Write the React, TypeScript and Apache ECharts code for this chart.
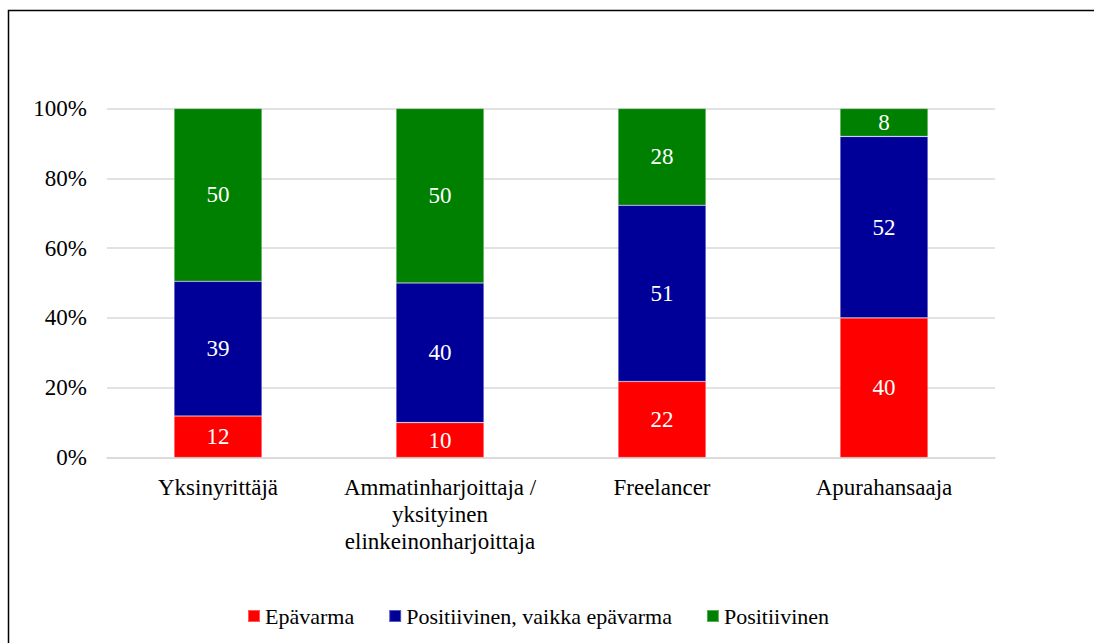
import React, { useEffect, useRef } from "react";
import * as echarts from "echarts";

const categories = [
  "Yksinyrittäjä",
  "Ammatinharjoittaja /\nyksityinen\nelinkeinonharjoittaja",
  "Freelancer",
  "Apurahansaaja",
];
const seriesNames = ["Epävarma", "Positiivinen, vaikka epävarma", "Positiivinen"];
const epavarma = [12, 10, 22, 40];
const positiivinenVaikka = [39, 40, 51, 52];
const positiivinen = [50, 50, 28, 8];
const yTicks = [0, 20, 40, 60, 80, 100];
const colors = ["#FF0000", "#000099", "#008000"];

const FONT = "Times New Roman, Liberation Serif, serif";

export default function App() {
  const ref = useRef<HTMLDivElement>(null);
  useEffect(() => {
    if (!ref.current) return;
    const chart = echarts.init(ref.current, null, { renderer: "svg" });
    const raw = [epavarma, positiivinenVaikka, positiivinen];
    const totals = categories.map((_, i) => raw.reduce((s, arr) => s + arr[i], 0));
    const series = raw.map((arr, si) => ({
      name: seriesNames[si],
      type: "bar",
      stack: "total",
      barWidth: 88,
      itemStyle: { color: colors[si], borderColor: "rgba(255,255,255,0.35)", borderWidth: 0.6 },
      label: {
        show: true,
        position: "inside",
        color: "#fff",
        fontFamily: FONT,
        fontSize: 23,
        formatter: (p: any) => String(arr[p.dataIndex]),
      },
      data: arr.map((v, i) => (v / totals[i]) * 100),
    }));
    chart.setOption({
      animation: false,
      textStyle: { fontFamily: FONT },
      graphic: [
        {
          type: "rect",
          shape: { x: 8.5, y: 10.5, width: 1200, height: 800 },
          style: { fill: "none", stroke: "#000", lineWidth: 1.5 },
          silent: true,
        },
      ],
      grid: { left: 107, right: 99, top: 108.5, bottom: 185.5, containLabel: false },
      legend: {
        data: seriesNames,
        top: 600,
        left: 242,
        itemWidth: 12,
        itemHeight: 12,
        itemGap: 34,
        icon: "rect",
        textStyle: { fontFamily: FONT, fontSize: 22, color: "#000" },
      },
      xAxis: {
        type: "category",
        data: categories,
        axisLine: { show: true, lineStyle: { color: "#d9d9d9", width: 1.5 } },
        axisTick: { show: false },
        axisLabel: {
          color: "#000",
          fontFamily: FONT,
          fontSize: 23,
          lineHeight: 27,
          margin: 16,
          interval: 0,
          align: "center",
        },
      },
      yAxis: {
        type: "value",
        min: yTicks[0],
        max: yTicks[yTicks.length - 1],
        interval: 20,
        axisLine: { show: false },
        axisTick: { show: false },
        splitLine: { lineStyle: { color: "#d9d9d9", width: 1.5 } },
        axisLabel: {
          color: "#000",
          fontFamily: FONT,
          fontSize: 23,
          margin: 20,
          formatter: "{value}%",
        },
      },
      series,
    });
    return () => chart.dispose();
  }, []);
  return (
    <div
      ref={ref}
      style={{ position: "fixed", left: 0, top: 0, width: 1094, height: 643, background: "#fff" }}
    />
  );
}
